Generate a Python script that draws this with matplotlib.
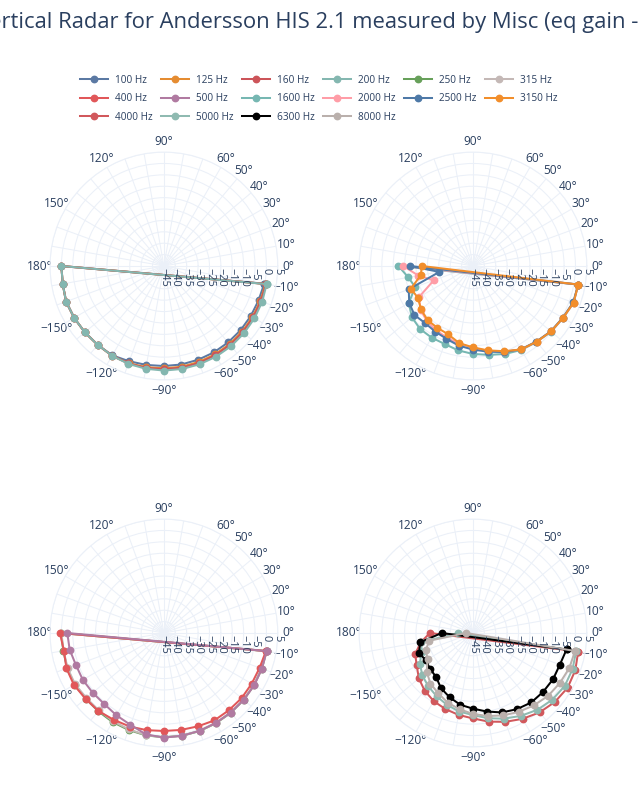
import numpy as np
import matplotlib.pyplot as plt
from matplotlib.lines import Line2D

plt.rcParams['font.family'] = ['Open Sans', 'DejaVu Sans']

TEXT = '#2a3f5f'
GRID = '#EBF0F8'

title = 'Vertical Radar for Andersson HIS 2.1 measured by Misc (eq gain -'

# measurement angles (degrees), lower half of the vertical plane
angles = [-10, -20, -30, -40, -50, -60, -70, -80, -90,
          -100, -110, -120, -130, -140, -150, -160, -170, 180]

freqs = ['100 Hz', '125 Hz', '160 Hz', '200 Hz', '250 Hz', '315 Hz',
         '400 Hz', '500 Hz', '1600 Hz', '2000 Hz', '2500 Hz', '3150 Hz',
         '4000 Hz', '5000 Hz', '6300 Hz', '8000 Hz']

colors = ['#5b79a3', '#e58c31', '#cc5459', '#84b7b0', '#67a05a', '#c4b8b6',
          '#e15759', '#b07aa1', '#76b7b2', '#ff9da7', '#4e79a7', '#f28e2b',
          '#d1585c', '#8fbab1', '#000000', '#bab0ac']

# dB values per frequency, same order as angles
db_100 = [-0.3, -0.8, -1.0, -1.1, -1.2, -1.2, -1.2, -1.1, -1.1, -0.9, -0.5, 0.3, 0.2, 0.3, 0.5, 0.7, 0.1, 0.0]
db_125 = [0.3, 0.0, -0.1, -0.2, -0.2, -0.2, -0.2, -0.1, -0.1, 0.1, 0.4, 0.5, 0.2, 0.3, 0.5, 0.7, 0.1, 0.0]
db_160 = [0.5, 0.3, 0.2, 0.2, 0.2, 0.2, 0.3, 0.3, 0.3, 0.4, 0.5, 0.5, 0.2, 0.3, 0.5, 0.7, 0.1, 0.0]
db_200 = [0.8, 0.9, 0.9, 0.9, 0.9, 0.9, 0.9, 0.9, 0.9, 0.8, 0.7, 0.5, 0.2, 0.3, 0.5, 0.7, 0.1, 0.0]
db_250 = [0.8, 0.7, 0.7, 0.7, 0.7, 0.7, 0.8, 0.8, 0.8, 0.6, 0.3, 0.1, -0.2, -0.2, 0.3, 0.2, -0.2, 0.2]
db_315 = [0.8, 0.7, 0.7, 0.6, 0.6, 0.6, 0.7, 0.8, 0.8, 0.5, 0.0, -0.3, -0.6, -0.6, 0.0, 0.0, -0.3, 0.0]
db_400 = [0.5, -0.3, -0.5, -0.5, -0.7, -0.7, -1.4, -1.8, -2.0, -1.7, -1.3, -1.0, -0.3, -0.1, 0.6, 0.5, -0.4, 0.6]
db_500 = [0.8, 0.8, 0.8, 0.7, 0.6, 0.6, 0.7, 0.8, 0.9, 0.2, -2.1, -3.3, -4.3, -4.2, -3.9, -3.9, -3.0, -2.6]
db_1600 = [1.9, 2.0, 0.7, -0.2, -1.5, -2.5, -3.9, -5.4, -6.4, -7.4, -8.6, -8.7, -8.9, -10.0, -12.5, -18.0, -16.2, -12.3]
db_2000 = [1.9, 2.0, 0.6, -0.3, -1.6, -2.7, -5.0, -7.2, -9.0, -10.4, -11.5, -12.5, -13.5, -15.0, -17.6, -26.7, -20.7, -14.4]
db_2500 = [1.9, 1.8, 0.5, -0.4, -1.7, -2.8, -4.8, -6.8, -8.3, -9.5, -11.0, -11.8, -12.3, -11.5, -12.7, -15.0, -30.0, -17.4]
db_3150 = [1.9, 2.0, 0.6, -0.3, -1.6, -2.7, -5.2, -7.4, -9.3, -10.6, -13.1, -13.7, -14.0, -15.3, -17.1, -16.0, -21.8, -22.5]
db_4000 = [1.9, 2.8, 3.0, 2.0, 0.5, -1.5, -3.5, -5.5, -7.5, -8.5, -9.5, -10.5, -12.0, -14.0, -16.5, -18.0, -21.8, -26.1]
db_5000 = [1.0, 1.5, 1.5, 0.5, -1.0, -3.0, -5.0, -7.0, -9.0, -10.0, -11.5, -13.0, -14.5, -16.0, -18.1, -21.0, -22.0, -38.6]
db_6300 = [-3.3, -4.4, -4.4, -4.8, -5.2, -6.4, -7.9, -10.0, -11.8, -13.0, -15.0, -17.0, -19.8, -20.5, -21.0, -19.8, -21.5, -31.3]
db_8000 = [0.5, 0.0, -1.0, -2.0, -3.5, -5.0, -6.5, -8.0, -9.5, -11.0, -12.5, -14.5, -16.0, -18.5, -22.0, -23.0, -25.5, -42.0]

values = [db_100, db_125, db_160, db_200, db_250, db_315, db_400, db_500,
          db_1600, db_2000, db_2500, db_3150, db_4000, db_5000, db_6300, db_8000]

# which frequencies go in which subplot (top-left, top-right, bottom-left, bottom-right)
panels = [[0, 1, 2, 3], [8, 9, 10, 11], [4, 5, 6, 7], [12, 13, 14, 15]]

r_ticks = [-45, -40, -35, -30, -25, -20, -15, -10, -5, 0, 5]
grid_angles = list(range(-170, 190, 10))
labelled = [-150, -120, -90, -60, -50, -40, -30, -20, -10, 0,
            10, 20, 30, 40, 50, 60, 90, 120, 150, 180]


def fmt(v):
    return str(v).replace('-', '\u2212')


fig = plt.figure(figsize=(6.4, 8), dpi=100)

rects = [[0.0781, 0.525, 0.356, 0.285], [0.561, 0.525, 0.356, 0.285],
         [0.0781, 0.06625, 0.356, 0.285], [0.561, 0.06625, 0.356, 0.285]]

for rect, idx in zip(rects, panels):
    ax = fig.add_axes(rect, projection='polar')
    ax.set_yticks(r_ticks)
    ax.set_yticklabels([])
    ax.set_rlim(-45, 5)
    ax.set_xticks(np.deg2rad(np.mod(grid_angles, 360)))
    ax.set_xticklabels([fmt(a) + '\u00b0' if a in labelled else '' for a in grid_angles],
                       color=TEXT, fontsize=8.6)
    ax.set_thetamin(0)
    ax.set_thetamax(360)
    ax.tick_params(axis='x', pad=-3)
    ax.grid(color=GRID, linewidth=0.75)
    ax.spines['polar'].set_color(GRID)
    ax.spines['polar'].set_linewidth(0.75)
    for v in r_ticks:
        ax.annotate(fmt(v), xy=(0, v), xytext=(0, -1.5), textcoords='offset points',
                    rotation=-90, ha='center', va='top', color=TEXT, fontsize=7.9)
    for i in idx:
        th = np.deg2rad(angles + angles[:1])
        r = values[i] + values[i][:1]
        ax.plot(th, r, color=colors[i], lw=1.45, marker='o', markersize=4.6,
                clip_on=False)

# legend laid out row by row, like the original
order = [0, 6, 12, 1, 7, 13, 2, 8, 14, 3, 9, 15, 4, 10, 5, 11]
handles = [Line2D([], [], color=colors[i], lw=1.45, marker='o', markersize=4.6) for i in order]
fig.legend(handles, [freqs[i] for i in order], ncol=6, loc='upper left',
           bbox_to_anchor=(0.117, 0.913), frameon=False, fontsize=7.2,
           handlelength=2.8, handletextpad=0.7, columnspacing=0.85,
           labelspacing=0.75, borderpad=0, labelcolor=TEXT)

renderer = fig.canvas.get_renderer()
probe = fig.text(0, 0, 'Ve', fontsize=15.8)
w = probe.get_window_extent(renderer).width
probe.remove()
fig.text((2 - w) / 640, 0.9644, title, fontsize=15.8, color=TEXT, va='baseline')

fig.savefig('out.png', dpi=100)
